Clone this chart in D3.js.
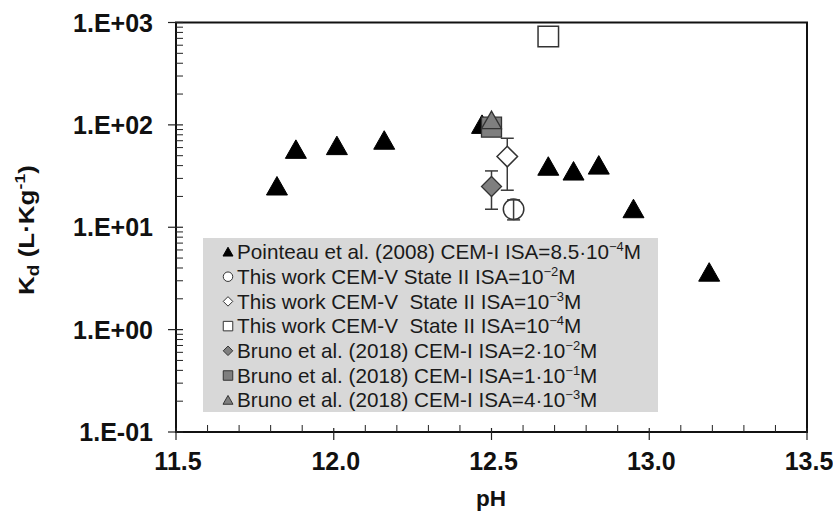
<!DOCTYPE html>
<html>
<head>
<meta charset="utf-8">
<script src="https://cdn.jsdelivr.net/npm/d3@7"></script>
<style>
  html, body { margin: 0; padding: 0; background: #fff; }
  svg { display: block; }
  text { font-family: "Liberation Sans", Arial, sans-serif; }
</style>
</head>
<body>
<svg id="chart" width="833" height="511"></svg>
<script>
// Pointeau et al. (2008), CEM-I, ISA = 8.5e-4 M
const pointeauPH = [11.82, 11.88, 12.01, 12.16, 12.47, 12.68, 12.76, 12.84, 12.95, 13.19];
const pointeauKd = [25, 57, 62, 70, 100, 39, 35, 40, 15, 3.6];

// This work, CEM-V State II
const thisWorkPH   = [12.57, 12.55, 12.68];
const thisWorkKd   = [15, 49, 730];
const thisWorkLow  = [11.8, 23, null];
const thisWorkHigh = [18.5, 74, null];
const thisWorkShape = ["circle", "diamond", "square"];

// Bruno et al. (2018), CEM-I
const brunoPH   = [12.5, 12.5, 12.5];
const brunoKd   = [25, 95, 110];
const brunoLow  = [15, null, null];
const brunoHigh = [35.5, null, null];
const brunoShape = ["diamond", "square", "triangle"];

// Axis ticks
const xTicks = [11.5, 12.0, 12.5, 13.0, 13.5];
const yTicks = [0.1, 1, 10, 100, 1000];
const yTickLabels = ["1.E-01", "1.E+00", "1.E+01", "1.E+02", "1.E+03"];

// Legend entries
const legendShapes = ["triangle", "circle", "diamond", "square", "diamond", "square", "triangle"];
const legendFills  = ["#000", "#fff", "#fff", "#fff", "#7f7f7f", "#7f7f7f", "#7f7f7f"];
const legendText   = [
  "Pointeau et al. (2008) CEM-I ISA=8.5·10",
  "This work CEM-V State II ISA=10",
  "This work CEM-V  State II ISA=10",
  "This work CEM-V  State II ISA=10",
  "Bruno et al. (2018) CEM-I ISA=2·10",
  "Bruno et al. (2018) CEM-I ISA=1·10",
  "Bruno et al. (2018) CEM-I ISA=4·10"
];
const legendExp = ["−4", "−2", "−3", "−4", "−2", "−1", "−3"];

const svg = d3.select("#chart");
const plotL = 176, plotR = 807, plotT = 22.5, plotB = 432;

const x = d3.scaleLinear().domain([11.5, 13.5]).range([plotL, plotR]);
const y = d3.scaleLog().domain([0.1, 1000]).range([plotB, plotT]);

// marker path generator centred on (0,0)
function shapePath(shape, s) {
  const h = s / 2;
  if (shape === "triangle") return `M0,${-h}L${h * 1.05},${h * 0.85}L${-h * 1.05},${h * 0.85}Z`;
  if (shape === "square") return `M${-h},${-h}H${h}V${h}H${-h}Z`;
  if (shape === "diamond") return `M0,${-h}L${h},0L0,${h}L${-h},0Z`;
  if (shape === "circle") return `M${h},0A${h},${h} 0 1,1 ${-h},0A${h},${h} 0 1,1 ${h},0Z`;
}

// frame
svg.append("rect").attr("x", plotL).attr("y", plotT).attr("width", plotR - plotL).attr("height", plotB - plotT)
  .attr("fill", "none").attr("stroke", "#111").attr("stroke-width", 2);

// y axis with log minor ticks pointing inward
const yMinor = [];
for (let e = -1; e < 3; e++) for (let m = 2; m <= 9; m++) yMinor.push(m * Math.pow(10, e));
svg.append("g").selectAll("line").data(yMinor).join("line")
  .attr("x1", plotL).attr("x2", plotL + 7).attr("y1", d => y(d)).attr("y2", d => y(d))
  .attr("stroke", "#222").attr("stroke-width", 1);
svg.append("g").selectAll("line").data(yTicks).join("line")
  .attr("x1", plotL - 8).attr("x2", plotL + 7).attr("y1", d => y(d)).attr("y2", d => y(d))
  .attr("stroke", "#222").attr("stroke-width", 1.2);
svg.append("g").selectAll("text").data(yTicks).join("text")
  .attr("x", 153).attr("y", d => y(d)).attr("dy", "0.36em").attr("text-anchor", "end")
  .attr("font-size", 25).attr("font-weight", "bold").attr("fill", "#111")
  .text((d, i) => yTickLabels[i]);

// x axis with minor ticks every 0.1
const xMinor = d3.range(11.6, 13.45, 0.1).filter(v => Math.abs(v * 2 - Math.round(v * 2)) > 0.01);
svg.append("g").selectAll("line").data(xMinor).join("line")
  .attr("x1", d => x(d)).attr("x2", d => x(d)).attr("y1", plotB).attr("y2", plotB - 7)
  .attr("stroke", "#222").attr("stroke-width", 1);
svg.append("g").selectAll("line").data(xTicks).join("line")
  .attr("x1", d => x(d)).attr("x2", d => x(d)).attr("y1", plotB - 4).attr("y2", plotB + 8)
  .attr("stroke", "#222").attr("stroke-width", 1.2);
svg.append("g").selectAll("text").data(xTicks).join("text")
  .attr("x", d => x(d) + 2).attr("y", 470).attr("text-anchor", "middle")
  .attr("font-size", 25).attr("font-weight", "bold").attr("fill", "#111")
  .text(d => d.toFixed(1));

// axis titles
svg.append("text").attr("x", 491).attr("y", 505.5).attr("text-anchor", "middle")
  .attr("font-size", 22.5).attr("font-weight", "bold").attr("fill", "#111").text("pH");
const yt = svg.append("text").attr("transform", "translate(34,230) rotate(-90)")
  .attr("text-anchor", "middle").attr("font-size", 22).attr("font-weight", "bold").attr("fill", "#111");
yt.append("tspan").text("K");
yt.append("tspan").attr("font-size", 16).attr("dy", 5).text("d");
yt.append("tspan").attr("dy", -5).text(" (L·Kg");
yt.append("tspan").attr("font-size", 15).attr("dy", -9).text("-1");
yt.append("tspan").attr("dy", 9).text(")");
// stretch the title along its baseline to its drawn length
const ytLen = yt.node().getComputedTextLength();
yt.attr("transform", `translate(34,230) rotate(-90) scale(${130 / ytLen},1)`);

// legend
const lg = svg.append("g");
lg.append("rect").attr("x", 203).attr("y", 238).attr("width", 455).attr("height", 174).attr("fill", "#d8d8d8");
const rowY = i => 252 + i * 24.7;
legendText.forEach((t, i) => {
  lg.append("path").attr("d", shapePath(legendShapes[i], 9.5))
    .attr("transform", `translate(228,${rowY(i)})`)
    .attr("fill", legendFills[i]).attr("stroke", i === 0 ? "#000" : "#333").attr("stroke-width", 1);
  const tx = lg.append("text").attr("transform", `translate(237,${rowY(i)}) scale(1.035,1)`)
    .attr("dy", "0.36em")
    .attr("font-size", 20).attr("fill", "#1a1a1a").style("white-space", "pre");
  tx.append("tspan").text(t);
  tx.append("tspan").attr("font-size", 12.5).attr("dy", -8).text(legendExp[i]);
  tx.append("tspan").attr("dy", 8).text("M");
});

// error bars
function errorBars(ph, low, high) {
  ph.forEach((p, i) => {
    if (low[i] == null) return;
    const g = svg.append("g").attr("stroke", "#3a3a3a").attr("stroke-width", 1.5);
    g.append("line").attr("x1", x(p)).attr("x2", x(p)).attr("y1", y(low[i])).attr("y2", y(high[i]));
    g.append("line").attr("x1", x(p) - 6.5).attr("x2", x(p) + 6.5).attr("y1", y(low[i])).attr("y2", y(low[i]));
    g.append("line").attr("x1", x(p) - 6.5).attr("x2", x(p) + 6.5).attr("y1", y(high[i])).attr("y2", y(high[i]));
  });
}

// Pointeau triangles
svg.append("g").selectAll("path").data(pointeauPH).join("path")
  .attr("d", shapePath("triangle", 20))
  .attr("transform", (d, i) => `translate(${x(d)},${y(pointeauKd[i])})`)
  .attr("fill", "#000").attr("stroke", "#000").attr("stroke-width", 1);

// Bruno markers (gray)
errorBars(brunoPH, brunoLow, brunoHigh);
svg.append("g").selectAll("path").data(brunoPH).join("path")
  .attr("d", (d, i) => shapePath(brunoShape[i], i === 2 ? 19 : 20))
  .attr("transform", (d, i) => `translate(${x(d)},${y(brunoKd[i])})`)
  .attr("fill", "#7f7f7f").attr("stroke", "#333").attr("stroke-width", 1.3);

// This work: open circle and square, then the diamond over its error bar
svg.append("g").selectAll("path").data([0, 2]).join("path")
  .attr("d", i => shapePath(thisWorkShape[i], 20.5))
  .attr("transform", i => `translate(${x(thisWorkPH[i])},${y(thisWorkKd[i])})`)
  .attr("fill", "#fff").attr("stroke", "#333").attr("stroke-width", 1.5);
errorBars(thisWorkPH, thisWorkLow, thisWorkHigh);
svg.append("path").attr("d", shapePath("diamond", 20.5))
  .attr("transform", `translate(${x(thisWorkPH[1])},${y(thisWorkKd[1])})`)
  .attr("fill", "#fff").attr("stroke", "#333").attr("stroke-width", 1.5);
</script>
</body>
</html>
